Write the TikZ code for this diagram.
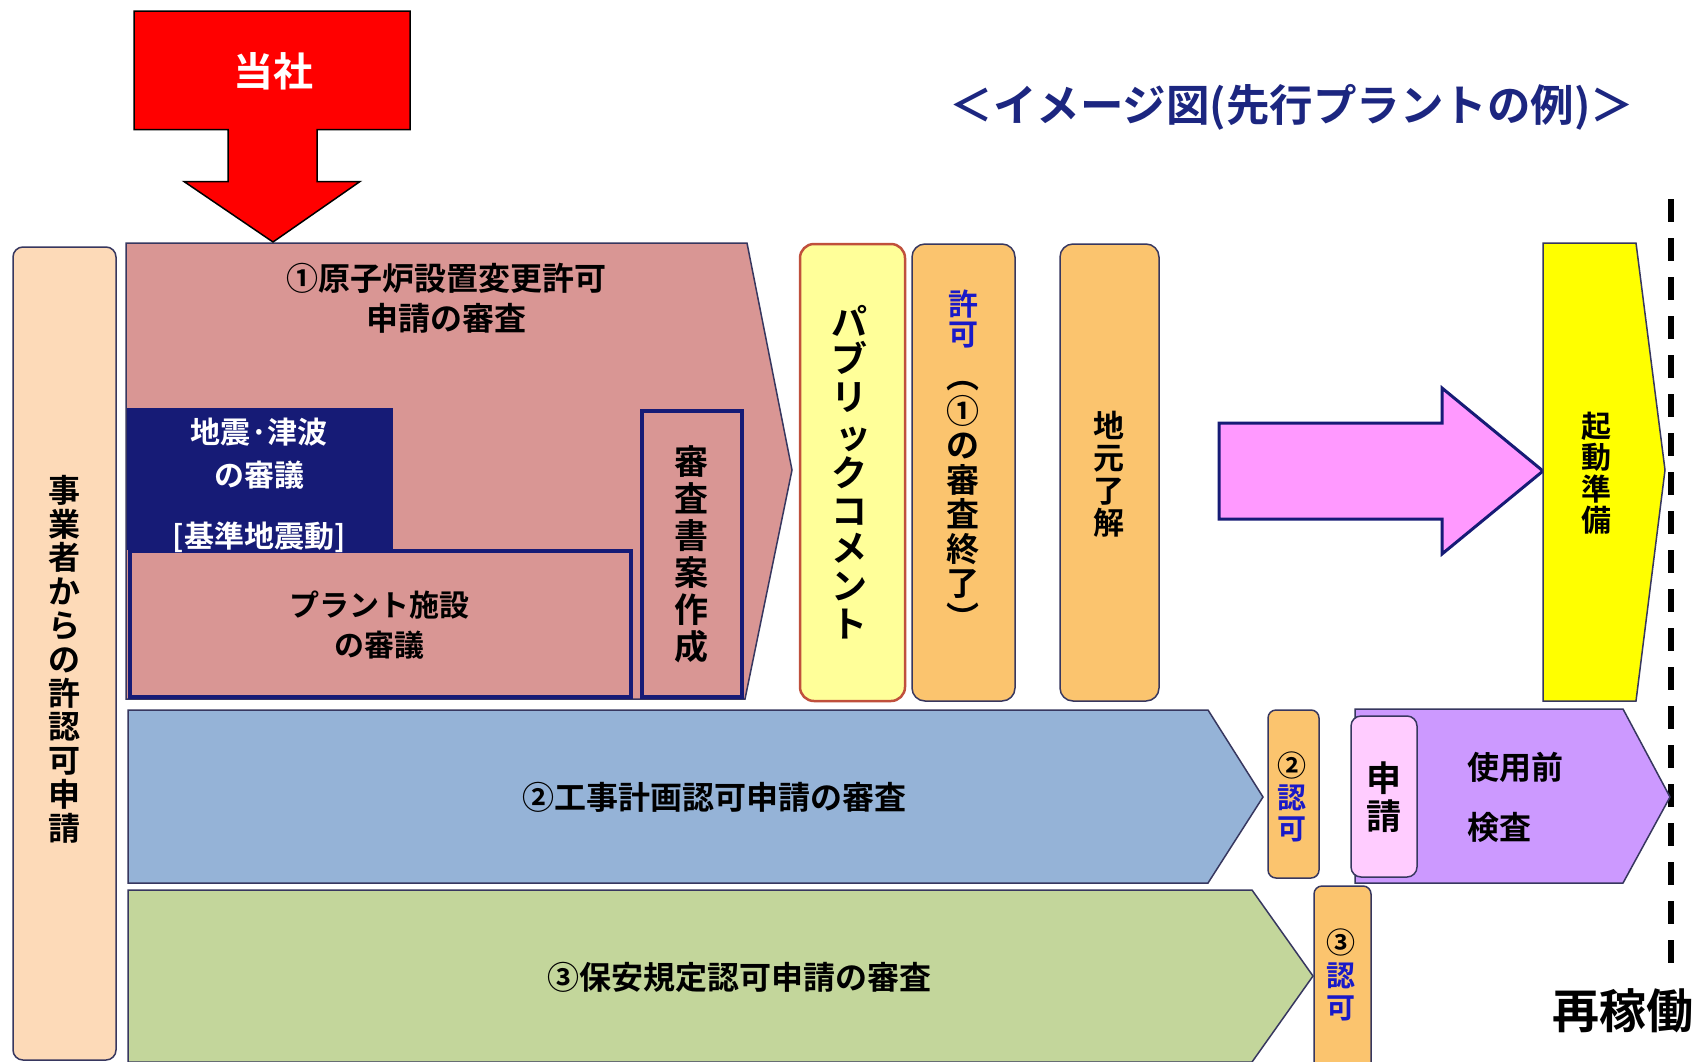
\documentclass[tikz,border=0pt]{standalone}
\usepackage{fontspec}
\setmainfont{Noto Sans CJK JP}[BoldFont={Noto Sans CJK JP Bold}]
\definecolor{bd}{RGB}{55,55,95}
\definecolor{navy}{RGB}{22,27,118}
\definecolor{ttl}{RGB}{28,38,128}
\definecolor{pinkr}{RGB}{217,150,148}
\definecolor{peach}{RGB}{253,218,184}
\definecolor{lyel}{RGB}{255,255,153}
\definecolor{brn}{RGB}{192,80,60}
\definecolor{org}{RGB}{251,196,110}
\definecolor{mag}{RGB}{255,153,255}
\definecolor{yel}{RGB}{255,255,0}
\definecolor{blu}{RGB}{149,179,215}
\definecolor{grn}{RGB}{195,214,155}
\definecolor{pur}{RGB}{204,153,255}
\definecolor{lpink}{RGB}{255,204,255}
\definecolor{kblue}{RGB}{25,25,200}
\begin{document}
\begin{tikzpicture}[x=1pt,y=-1pt,
  shp/.style={draw=bd,line width=1.5pt},
  tall/.style={shp,rounded corners=13pt,fill=org},
  thick/.style={draw=navy,line width=3.5pt,fill=pinkr},
  lbl/.style={inner sep=0pt,align=center,font=\fontsize{32}{40}\selectfont\bfseries},
  vt/.style={inner sep=0pt,align=center}]
\fill[white] (0,0) rectangle (1697,1061);
\useasboundingbox (0,0) rectangle (1697,1061);

% left tall box
\draw[shp,rounded corners=10pt,fill=peach] (13,247) rectangle (116,1060);
% pink pentagon
\draw[shp,fill=pinkr] (126,243) -- (747,243) -- (792,470) -- (745,699) -- (126,699) -- cycle;
\fill[navy] (127,408) rectangle (393,550);
\draw[thick] (130,551) rectangle (631,697);
\draw[thick] (642,411) rectangle (742,697);
% vertical boxes
\draw[rounded corners=14pt,fill=lyel,draw=brn,line width=2.5pt] (800,244) rectangle (905,701);
\draw[tall] (912,244) rectangle (1015,701);
\draw[tall] (1060,244) rectangle (1159,701);
% magenta arrow
\draw[fill=mag,draw=navy,line width=3pt] (1219,423) -- (1442,423) -- (1442,388) -- (1543,471) -- (1442,554) -- (1442,519) -- (1219,519) -- cycle;
% yellow pentagon
\draw[shp,fill=yel] (1543,243) -- (1636,243) -- (1665,470) -- (1636,701) -- (1543,701) -- cycle;
% dashed line
\draw[line width=5.5pt,dash pattern=on 23pt off 16pt] (1671,199) -- (1671,975);
% blue and green rows
\draw[shp,fill=blu] (128,710) -- (1208,710) -- (1263,797) -- (1208,883) -- (128,883) -- cycle;
\draw[shp,fill=grn] (128,890) -- (1252,890) -- (1313,976) -- (1252,1062) -- (128,1062) -- cycle;
\draw[tall,rounded corners=8pt] (1268,710) rectangle (1319,878);
\draw[tall,rounded corners=8pt] (1314,886) rectangle (1371,1075);
\draw[shp,fill=pur] (1355,709) -- (1623,709) -- (1670,797) -- (1623,883) -- (1355,883) -- cycle;
\draw[shp,rounded corners=10pt,fill=lpink] (1351,716) rectangle (1417,877);
% red arrow
\draw[fill=red,draw=black,line width=1.5pt] (134,11) -- (410,11) -- (410,129.5) -- (317,129.5) -- (317,181.5) -- (360,181.5) -- (273,242) -- (184,181.5) -- (228,181.5) -- (228,129.5) -- (134,129.5) -- cycle;

% texts
\node[lbl,text=white,font=\fontsize{40}{44}\selectfont\bfseries] (tosha) at (273,71) {当社};
\node[lbl,text=ttl,font=\fontsize{43.5}{46}\selectfont\bfseries] (title) at (1292,107) {＜イメージ図(先行プラントの例)＞};
\node[vt,font=\fontsize{32}{33.8}\selectfont\bfseries] (applicant) at (64,659) {事\\業\\者\\か\\ら\\の\\許\\認\\可\\申\\請};
\node[lbl] (r1) at (446,298) {①原子炉設置変更許可\\申請の審査};
\node[lbl,text=white,font=\fontsize{30}{43}\selectfont\bfseries] (quake) at (259,485) {地震·津波\\の審議\\[18pt]{[}基準地震動{]}};
\node[lbl,font=\fontsize{30}{40}\selectfont\bfseries] (plant) at (379,625) {プラント施設\\の審議};
\node[vt,font=\fontsize{34}{37}\selectfont\bfseries] (draft) at (691,554) {審\\査\\書\\案\\作\\成};
\node[vt,font=\fontsize{36}{37.8}\selectfont\bfseries] (pubc) at (849,472) {パ\\ブ\\リ\\\hspace*{8pt}ッ\\ク\\コ\\メ\\ン\\ト};
\node[vt,text=kblue,font=\fontsize{30}{30}\selectfont\bfseries] (kyoka) at (963,319) {許\\可};
\node[vt,font=\fontsize{33}{34.5}\selectfont\bfseries] (kyoka2) at (963,506) {︵\\①\\の\\審\\査\\終\\了\\︶};
\node[vt,font=\fontsize{31}{32.5}\selectfont\bfseries] (jimoto) at (1109,474) {地\\元\\了\\解};
\node[vt,font=\fontsize{30}{31.5}\selectfont\bfseries] (kido) at (1596,473) {起\\動\\準\\備};
\node[lbl] (r2) at (714,797) {②工事計画認可申請の審査};
\node[lbl] (r3) at (739,977) {③保安規定認可申請の審査};
\node[vt,font=\fontsize{29}{31.5}\selectfont\bfseries] (nin2) at (1292,797) {②\\\textcolor{kblue}{認}\\\textcolor{kblue}{可}};
\node[vt,font=\fontsize{29}{32.5}\selectfont\bfseries] (nin3) at (1341,975) {③\\\textcolor{kblue}{認}\\\textcolor{kblue}{可}};
\node[vt,font=\fontsize{35}{38}\selectfont\bfseries] (shinsei) at (1384,797) {申\\請};
\node[anchor=west,inner sep=0pt,align=left,font=\fontsize{32}{60}\selectfont\bfseries] (inspect) at (1467,797) {使用前\\検査};
\node[lbl,font=\fontsize{47}{50}\selectfont\bfseries] (restart) at (1623,1011) {再稼働};
\end{tikzpicture}
\end{document}
